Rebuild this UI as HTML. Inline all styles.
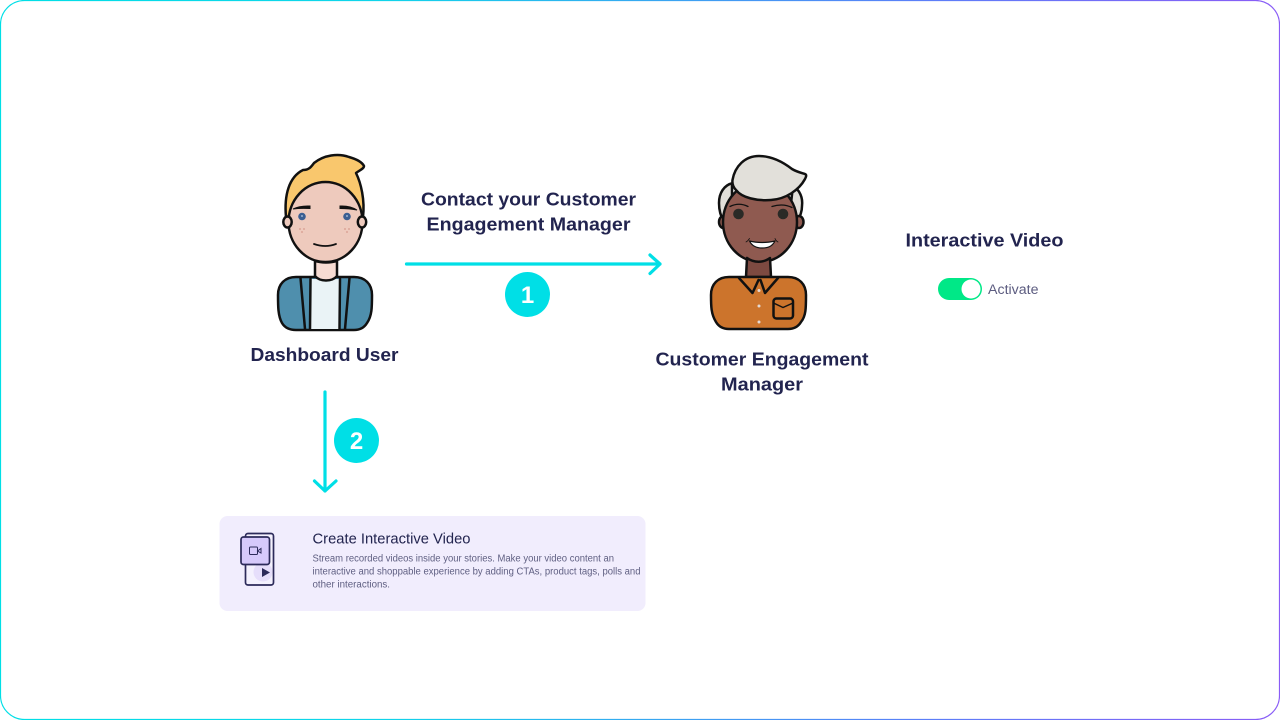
<!DOCTYPE html>
<html><head><meta charset="utf-8"><style>
html,body{margin:0;padding:0;background:#fff;width:1280px;height:720px;overflow:hidden}
svg{display:block}
text{font-family:"Liberation Sans",sans-serif}
</style></head><body>
<svg width="1280" height="720" viewBox="0 0 1280 720" xmlns="http://www.w3.org/2000/svg">
<defs>
<linearGradient id="b" gradientUnits="userSpaceOnUse" x1="0" y1="360" x2="1280" y2="360">
<stop offset="0" stop-color="#00dfe6"/><stop offset=".3" stop-color="#10d4ea"/><stop offset=".55" stop-color="#3f9ef2"/><stop offset=".72" stop-color="#5b7ff8"/><stop offset="1" stop-color="#8a5cf6"/>
</linearGradient>
</defs>
<rect width="1280" height="720" fill="#fff"/>
<rect x=".5" y=".5" width="1279" height="719" rx="24" fill="none" stroke="url(#b)" stroke-width="1.200"/>

<!-- Dashboard user -->
<g stroke="#111" stroke-width="2.500" stroke-linejoin="round" stroke-linecap="round">
<path d="M286 217C284 195 289 177 303 170C309 170 311 167 314 163C324 155 338 153 349 157C356 159 362 162 364 166C364 169 358 171 356 173C361 183 365 200 363 217Z" fill="#f9c76d"/>
<ellipse cx="325.500" cy="222" rx="37" ry="40" fill="#eecabd"/>
<path d="M296 277H354C365 277 372 284 372 295C372 307 372 316 367 323C364 328 360 330 354 330H296C290 330 285 328 282 323C278 316 278 306 278 295C278 284 285 277 296 277Z" fill="#4f8fad"/>
<path d="M311 279H340L339.500 329H310Z" fill="#eaf3f6" stroke="none"/>
<path d="M300.500 278L305 329M310.500 279L310 329M349.500 278L345 329M340 279L339.500 329" fill="none"/>
<path d="M315 261V276C320 282 332 282 337 276V261C331 263 321 263 315 261Z" fill="#f7dcd3"/>
<ellipse cx="287.500" cy="222" rx="4.200" ry="5.500" fill="#eecabd"/>
<ellipse cx="362" cy="222" rx="4.200" ry="5.500" fill="#eecabd"/>
<path d="M314 244Q325.500 248 336 244" fill="none" stroke-width="1.800"/>
</g>
<path d="M293 209Q300 205.500 310 206L310 208.500Q300 208 293 209ZM340 206Q350 205.500 357 210Q349 208.500 340 208.500Z" fill="#111" stroke="#111" stroke-width="1"/>
<circle cx="302" cy="216.500" r="3.800" fill="#3b5f92"/><circle cx="347" cy="216.500" r="3.800" fill="#3b5f92"/>
<circle cx="302" cy="216" r="1" fill="#9db4d1"/><circle cx="347" cy="216" r="1" fill="#9db4d1"/>
<g fill="#d69b8d"><circle cx="300" cy="229" r=".9"/><circle cx="304" cy="229" r=".9"/><circle cx="302" cy="232" r=".9"/><circle cx="345" cy="229" r=".9"/><circle cx="349" cy="229" r=".9"/><circle cx="347" cy="232" r=".9"/></g>

<!-- Manager -->
<g stroke="#111" stroke-width="2.500" stroke-linejoin="round" stroke-linecap="round">
<path d="M733 183C724 185 719 193 719 203C719 211 721 217 724 222L732 215V185Z" fill="#e2e0da"/>
<path d="M793 186C800 190 803 198 802 206C802 212 800 216 798 220L790 212Z" fill="#e2e0da"/>
<ellipse cx="723.500" cy="222" rx="4.500" ry="6" fill="#8f5a50"/>
<ellipse cx="799" cy="222" rx="4.500" ry="6" fill="#8f5a50"/>
<ellipse cx="760" cy="222" rx="37" ry="40" fill="#8f5a50"/>
<path d="M747 258L746 277H771L770 258C763 263 754 263 747 258Z" fill="#7d4a41"/>
<path d="M729 277H788C799 277 806 284 806 295C806 308 806 316 801 322C798 327 794 329 788 329H729C723 329 719 327 716 322C711 314 711 306 711 295C711 284 718 277 729 277Z" fill="#cc742c"/>
<path d="M739 278L752.500 293L758.500 280M760.500 280L765 293L778 278" fill="#cc742c"/>
<rect x="773.500" y="298.500" width="19.500" height="20" rx="3" fill="none"/>
<path d="M773.500 303L783 307.500L793 303" fill="none" stroke-width="1.500"/>
<path d="M732.500 180C735 166 745 156 759 156C771 156 783 162 792 169C797 172 802 173 805 174C807 175 806 177 805 179C799 190 786 199 771 200C757 201 742 198 736 190C733 187 732 184 732.500 180Z" fill="#e2e0da"/>
<path d="M730 206.500Q739 202 748 206.500M772 206.500Q783 203 792 207.500" fill="none" stroke-width="1.300"/>
<path d="M749.500 241C757 243 767 243 775 241C772 247 767 248 762 248C757 248 752 246 749.500 241Z" fill="#fff" stroke-width="1.200"/>
<path d="M746 242Q748 241 749.500 238.500M778 242Q776 241 775 238.500" fill="none" stroke-width=".8"/>
</g>
<circle cx="738.500" cy="214" r="5.300" fill="#2a2a26"/><circle cx="783" cy="214" r="5.300" fill="#2a2a26"/>
<g fill="#e4d9d4"><circle cx="759" cy="290.500" r="1.500"/><circle cx="759" cy="306" r="1.500"/><circle cx="759" cy="322" r="1.500"/></g>

<!-- Connectors -->
<g fill="none" stroke="#00dfe6" stroke-width="3.200" stroke-linecap="round" stroke-linejoin="round">
<path d="M406.500 264H660M650 255L660 264L650 273.500"/>
<path d="M325 392V491M314.500 481L325 491L336 481"/>
</g>
<circle cx="527.500" cy="294.500" r="22.500" fill="#00dfe6"/>
<circle cx="356.500" cy="440.500" r="22.500" fill="#00dfe6"/>
<text x="527.500" y="303" fill="#fff" font-size="24" font-weight="700" text-anchor="middle">1</text>
<text x="356.500" y="449" fill="#fff" font-size="24" font-weight="700" text-anchor="middle">2</text>

<!-- Headings -->
<g fill="#22244f" font-size="18.500" font-weight="700">
<text x="421" y="205.500" textLength="215" lengthAdjust="spacingAndGlyphs">Contact your Customer</text>
<text x="426.500" y="230.500" textLength="204" lengthAdjust="spacingAndGlyphs">Engagement Manager</text>
<text x="250.500" y="361" textLength="148" lengthAdjust="spacingAndGlyphs">Dashboard User</text>
<text x="655.500" y="365.500" textLength="213" lengthAdjust="spacingAndGlyphs">Customer Engagement</text>
<text x="721" y="390.500" textLength="82" lengthAdjust="spacingAndGlyphs">Manager</text>
<text x="905.500" y="246.500" textLength="158" lengthAdjust="spacingAndGlyphs">Interactive Video</text>
</g>

<!-- Toggle -->
<rect x="938" y="278" width="44" height="22" rx="11" fill="#00e887"/>
<circle cx="971" cy="289" r="9.500" fill="#fff"/>
<text x="988" y="294" font-size="13.500" fill="#5c5c80" textLength="50.500" lengthAdjust="spacingAndGlyphs">Activate</text>

<!-- Card -->
<rect x="219.500" y="516" width="426" height="95" rx="8" fill="#f1edfd"/>
<rect x="245.500" y="533.500" width="28" height="51.500" rx="2.500" fill="#f4f1fe" stroke="#2c2a5a" stroke-width="1.700"/>
<circle cx="263" cy="572" r="9.500" fill="#e6defb"/>
<path d="M262 568L270 572.500L262 577Z" fill="#2c2a5a"/>
<rect x="241" y="537" width="28.500" height="27.500" rx="2.500" fill="#d6c9fb" stroke="#2c2a5a" stroke-width="1.700"/>
<rect x="249.500" y="547" width="8" height="7.500" rx="1" fill="none" stroke="#2c2a5a" stroke-width="1"/>
<path d="M257.500 551L261 548.500V553L257.500 551Z" fill="none" stroke="#2c2a5a" stroke-width="1"/>
<text x="312.500" y="543.500" font-size="14.500" fill="#22244f" textLength="158" lengthAdjust="spacingAndGlyphs">Create Interactive Video</text>
<g font-size="9.800" fill="#5f5f82">
<text x="312.500" y="561.500" textLength="301.500" lengthAdjust="spacingAndGlyphs">Stream recorded videos inside your stories. Make your video content an</text>
<text x="312.500" y="574.500" textLength="328" lengthAdjust="spacingAndGlyphs">interactive and shoppable experience by adding CTAs, product tags, polls and</text>
<text x="312.500" y="587.500" textLength="77.500" lengthAdjust="spacingAndGlyphs">other interactions.</text>
</g>
</svg>
</body></html>
